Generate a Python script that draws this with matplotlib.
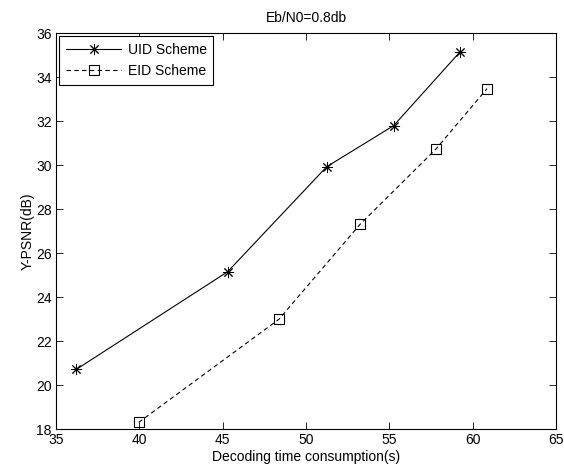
import matplotlib
matplotlib.use('Agg')
import matplotlib.pyplot as plt

# datos
uid_x = [36.22, 45.30, 51.24, 55.26, 59.24]
uid_y = [20.71, 25.15, 29.92, 31.79, 35.14]
eid_x = [39.96, 48.38, 53.24, 57.78, 60.86]
eid_y = [18.30, 22.99, 27.30, 30.71, 33.47]
x_ticks = [35, 40, 45, 50, 55, 60, 65]
y_ticks = [18, 20, 22, 24, 26, 28, 30, 32, 34, 36]

plt.rcParams['font.family'] = ['Liberation Sans', 'DejaVu Sans']
plt.rcParams['font.size'] = 10

fig = plt.figure(figsize=(5.64, 4.73), dpi=100)
ax = fig.add_axes([56 / 564, 44 / 473, 500 / 564, 396 / 473])

# asterisco estilo matlab
ax.plot(uid_x, uid_y, color='black', linestyle='-', linewidth=0.8,
        marker=(8, 2, 0), markersize=8, markeredgewidth=0.7, label='UID Scheme')
ax.plot(eid_x, eid_y, color='black', linestyle=(0, (4, 3)), linewidth=0.8,
        marker='s', markersize=7, markerfacecolor='none', markeredgewidth=0.8,
        label='EID Scheme')

ax.set_xlim(35, 65)
ax.set_ylim(18, 36)
ax.set_xticks(x_ticks)
ax.set_yticks(y_ticks)
ax.tick_params(direction='in', top=True, right=True, length=5, width=0.6, pad=3)
for s in ax.spines.values():
    s.set_linewidth(0.8)

ax.set_title('Eb/N0=0.8db', fontsize=10, pad=8)
ax.set_xlabel('Decoding time consumption(s)', labelpad=2)
ax.set_ylabel('Y-PSNR(dB)', labelpad=1)

leg = ax.legend(loc='upper left', fancybox=False, framealpha=1, edgecolor='black',
                borderaxespad=0.25, handlelength=4.0, handletextpad=0.5,
                borderpad=0.45, labelspacing=0.55)
leg.get_frame().set_linewidth(0.8)

fig.savefig('out.png', dpi=100)
